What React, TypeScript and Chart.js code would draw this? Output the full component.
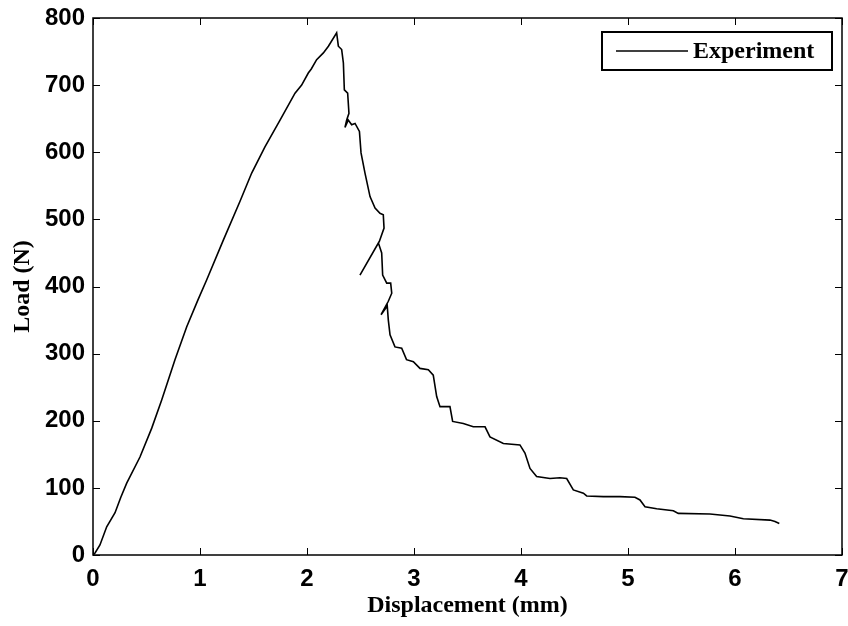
import React, { useEffect, useRef } from "react";
import { Chart, registerables } from "chart.js";

Chart.register(...registerables);

const seriesLabel = "Experiment";
const xTitle = "Displacement (mm)";
const yTitle = "Load (N)";

const dispMm = [
  0, 0.019, 0.065, 0.128, 0.206, 0.26, 0.315, 0.439, 0.549, 0.642, 0.766, 0.876, 0.981,
  1.063, 1.218, 1.374, 1.483, 1.607, 1.748, 1.888, 1.95, 2.012, 2.04, 2.09, 2.153, 2.2, 2.277,
  2.293, 2.324, 2.34, 2.349, 2.38, 2.392, 2.371, 2.355, 2.386, 2.417, 2.449, 2.49,
  2.505, 2.542, 2.589, 2.636, 2.682, 2.713, 2.72, 2.676, 2.495, 2.667, 2.698, 2.707,
  2.745, 2.782, 2.792, 2.76, 2.692, 2.75, 2.76, 2.776, 2.822, 2.885, 2.93, 2.994,
  3.056, 3.134, 3.18, 3.212, 3.243, 3.336, 3.361, 3.461, 3.554, 3.664, 3.71, 3.835,
  3.99, 4.037, 4.084, 4.146, 4.271, 4.364, 4.427, 4.489, 4.583, 4.614, 4.77, 4.925,
  5.065, 5.112, 5.159, 5.268, 5.424, 5.47, 5.766, 5.953, 6.078, 6.327, 6.374, 6.414,
];

const loadN = [
  0, 3, 15, 42, 63, 86, 107, 146, 189, 231, 291, 340, 380,
  410, 469, 527, 569, 608, 648, 688, 700, 718, 724, 738, 748, 758, 778,
  758, 753, 733, 693, 688, 658, 648, 637, 648, 641, 643, 631,
  599, 569, 534, 517, 509, 507, 487, 467, 417, 465, 450, 417,
  405, 405, 390, 378, 358, 371, 350, 328, 310, 308, 291, 288,
  278, 276, 268, 236, 221, 221, 199, 196, 191, 191, 176, 166,
  164, 152, 129, 117, 114, 115, 114, 97, 92, 88, 87, 87,
  86, 82, 72, 69, 66, 62, 61, 58, 54, 52, 50, 47,
];

const xTicks = [0, 1, 2, 3, 4, 5, 6, 7];
const yTicks = [0, 100, 200, 300, 400, 500, 600, 700, 800];

const sansBold = { family: '"Liberation Sans", Arial, sans-serif', size: 24, weight: "bold" as const };
const serifBold = { family: '"Liberation Serif", "Times New Roman", serif', size: 24, weight: "bold" as const };

const framePlugin = {
  id: "frame",
  afterDraw(chart: any) {
    const { ctx, chartArea } = chart;
    const { left, right, top, bottom } = chartArea;
    const xs = chart.scales.x;
    const ys = chart.scales.y;
    ctx.save();
    ctx.strokeStyle = "#000";
    ctx.lineWidth = 1.5;
    ctx.strokeRect(left, top, right - left, bottom - top);
    ctx.lineWidth = 1;
    const tl = 7;
    ctx.beginPath();
    xTicks.forEach((v) => {
      const px = Math.round(xs.getPixelForValue(v)) + 0.5;
      ctx.moveTo(px, bottom);
      ctx.lineTo(px, bottom - tl);
      ctx.moveTo(px, top);
      ctx.lineTo(px, top + tl);
    });
    yTicks.forEach((v) => {
      const py = Math.round(ys.getPixelForValue(v)) + 0.5;
      ctx.moveTo(left, py);
      ctx.lineTo(left + tl, py);
      ctx.moveTo(right, py);
      ctx.lineTo(right - tl, py);
    });
    ctx.stroke();

    // legend box
    const bw = 230;
    const bh = 38;
    const bx = right - 10 - bw;
    const by = top + 14;
    ctx.fillStyle = "#fff";
    ctx.fillRect(bx, by, bw, bh);
    ctx.lineWidth = 2;
    ctx.strokeRect(bx, by, bw, bh);
    const ly = by + bh / 2;
    ctx.lineWidth = 1.5;
    ctx.beginPath();
    ctx.moveTo(bx + 14, ly);
    ctx.lineTo(bx + 86, ly);
    ctx.stroke();
    ctx.fillStyle = "#000";
    ctx.font = `bold 24px ${serifBold.family}`;
    ctx.textAlign = "left";
    ctx.textBaseline = "middle";
    ctx.fillText(chart.data.datasets[0].label, bx + 91, ly + 1);
    ctx.restore();
  },
};

export default function App() {
  const canvasRef = useRef<HTMLCanvasElement | null>(null);

  useEffect(() => {
    const canvas = canvasRef.current;
    if (!canvas) return;
    const points = dispMm.map((x, i) => ({ x, y: loadN[i] }));
    const chart = new Chart(canvas, {
      type: "scatter",
      data: {
        datasets: [
          {
            label: seriesLabel,
            data: points,
            showLine: true,
            borderColor: "#000",
            borderWidth: 1.6,
            pointRadius: 0,
            fill: false,
            tension: 0,
          },
        ],
      },
      options: {
        responsive: false,
        animation: false,
        devicePixelRatio: 1,
        layout: { padding: { top: 18, right: 6, left: 0, bottom: 0 } },
        plugins: {
          legend: { display: false },
          title: { display: false },
          tooltip: { enabled: false },
        },
        scales: {
          x: {
            type: "linear",
            min: 0,
            max: 7,
            grid: { display: false, drawTicks: false },
            border: { display: false },
            ticks: {
              stepSize: 1,
              color: "#000",
              font: sansBold,
              padding: 10,
              maxRotation: 0,
            },
            title: {
              display: true,
              text: xTitle,
              color: "#000",
              font: serifBold,
              padding: { top: 0, bottom: 6 },
            },
            afterFit(scale: any) {
              scale.height = 71;
              scale.paddingLeft = 0;
              scale.paddingRight = 0;
            },
          },
          y: {
            type: "linear",
            min: 0,
            max: 800,
            grid: { display: false, drawTicks: false },
            border: { display: false },
            ticks: {
              stepSize: 100,
              color: "#000",
              font: sansBold,
              padding: 8,
            },
            title: {
              display: true,
              text: yTitle,
              color: "#000",
              font: serifBold,
              padding: { top: 8, bottom: 0 },
            },
            afterFit(scale: any) {
              scale.width = 93;
              scale.paddingTop = 0;
              scale.paddingBottom = 0;
            },
          },
        },
      },
      plugins: [framePlugin],
    });
    return () => chart.destroy();
  }, []);

  return (
    <div style={{ position: "fixed", left: 0, top: 0, width: 848, height: 626, background: "#fff" }}>
      <canvas ref={canvasRef} width={848} height={626} style={{ width: 848, height: 626, display: "block" }} />
    </div>
  );
}
